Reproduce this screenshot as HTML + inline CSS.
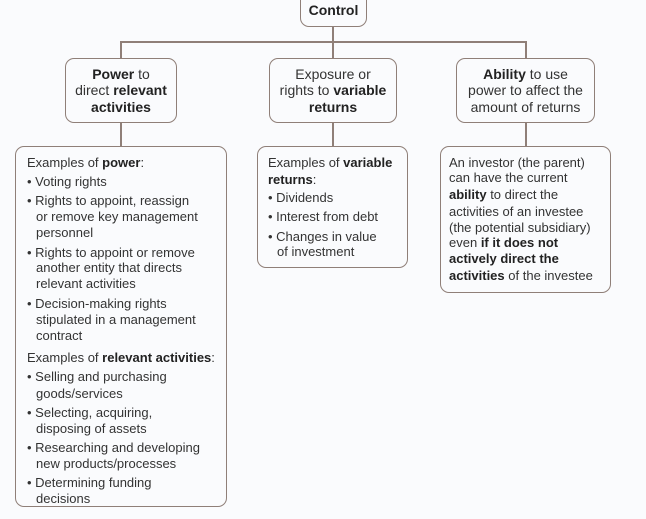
<!DOCTYPE html>
<html><head><meta charset="utf-8"><style>
html,body{margin:0;padding:0}
body{width:646px;height:519px;position:relative;overflow:hidden;background:#fafbfd;font-family:"Liberation Sans",sans-serif;color:#333;}
.box{position:absolute;border:1.5px solid #8f7f78;border-radius:9px;box-sizing:border-box;background:#fafbfd}
.ln{position:absolute;background:#8f7f78}
.t{position:absolute;font-size:13px;line-height:16px;height:16px;white-space:nowrap}
.h{position:absolute;font-size:14px;line-height:16px;text-align:center;white-space:nowrap}
b{font-weight:bold;color:#222}
</style></head><body>
<!-- connectors -->
<div class="ln" style="left:332px;top:26px;width:2px;height:17px"></div>
<div class="ln" style="left:120px;top:41px;width:407px;height:2px"></div>
<div class="ln" style="left:120px;top:41px;width:2px;height:18px"></div>
<div class="ln" style="left:332px;top:41px;width:2px;height:18px"></div>
<div class="ln" style="left:525px;top:41px;width:2px;height:18px"></div>
<div class="ln" style="left:120px;top:122px;width:2px;height:25px"></div>
<div class="ln" style="left:332px;top:122px;width:2px;height:25px"></div>
<div class="ln" style="left:525px;top:122px;width:2px;height:25px"></div>

<div class="box" style="left:300px;top:-10px;width:67px;height:37px"></div>
<div class="h" style="left:300px;width:67px;top:2px"><b>Control</b></div>

<div class="box" style="left:65px;top:58px;width:112px;height:65px"></div>
<div class="h" style="left:65px;width:112px;top:66px"><b>Power</b> to</div>
<div class="h" style="left:65px;width:112px;top:82px">direct <b>relevant</b></div>
<div class="h" style="left:65px;width:112px;top:99px"><b>activities</b></div>

<div class="box" style="left:269px;top:58px;width:128px;height:65px"></div>
<div class="h" style="left:269px;width:128px;top:66px">Exposure or</div>
<div class="h" style="left:269px;width:128px;top:82px">rights to <b>variable</b></div>
<div class="h" style="left:269px;width:128px;top:99px"><b>returns</b></div>

<div class="box" style="left:456px;top:58px;width:139px;height:65px"></div>
<div class="h" style="left:456px;width:139px;top:66px"><b>Ability</b> to use</div>
<div class="h" style="left:456px;width:139px;top:82px">power to affect the</div>
<div class="h" style="left:456px;width:139px;top:99px">amount of returns</div>

<!-- left bottom -->
<div class="box" style="left:15px;top:146px;width:212px;height:361px"></div>
<div class="t" style="left:27px;top:155px">Examples of <b>power</b>:</div>
<div class="t" style="left:27px;top:174px">• Voting rights</div>
<div class="t" style="left:27px;top:193px">• Rights to appoint, reassign</div>
<div class="t" style="left:36px;top:209px">or remove key management</div>
<div class="t" style="left:36px;top:225px">personnel</div>
<div class="t" style="left:27px;top:245px">• Rights to appoint or remove</div>
<div class="t" style="left:36px;top:260px">another entity that directs</div>
<div class="t" style="left:36px;top:276px">relevant activities</div>
<div class="t" style="left:27px;top:296px">• Decision-making rights</div>
<div class="t" style="left:36px;top:312px">stipulated in a management</div>
<div class="t" style="left:36px;top:328px">contract</div>
<div class="t" style="left:27px;top:350px">Examples of <b>relevant activities</b>:</div>
<div class="t" style="left:27px;top:369px">• Selling and purchasing</div>
<div class="t" style="left:36px;top:386px">goods/services</div>
<div class="t" style="left:27px;top:405px">• Selecting, acquiring,</div>
<div class="t" style="left:36px;top:421px">disposing of assets</div>
<div class="t" style="left:27px;top:440px">• Researching and developing</div>
<div class="t" style="left:36px;top:456px">new products/processes</div>
<div class="t" style="left:27px;top:475px">• Determining funding</div>
<div class="t" style="left:36px;top:491px">decisions</div>

<!-- middle bottom -->
<div class="box" style="left:257px;top:146px;width:151px;height:122px"></div>
<div class="t" style="left:268px;top:155px">Examples of <b>variable</b></div>
<div class="t" style="left:268px;top:172px"><b>returns</b>:</div>
<div class="t" style="left:268px;top:190px">• Dividends</div>
<div class="t" style="left:268px;top:209px">• Interest from debt</div>
<div class="t" style="left:268px;top:229px">• Changes in value</div>
<div class="t" style="left:277px;top:244px">of investment</div>

<!-- right bottom -->
<div class="box" style="left:440px;top:146px;width:171px;height:147px"></div>
<div class="t" style="left:449px;top:155px">An investor (the parent)</div>
<div class="t" style="left:449px;top:170px">can have the current</div>
<div class="t" style="left:449px;top:187px"><b>ability</b> to direct the</div>
<div class="t" style="left:449px;top:204px">activities of an investee</div>
<div class="t" style="left:449px;top:220px">(the potential subsidiary)</div>
<div class="t" style="left:449px;top:235px">even <b>if it does not</b></div>
<div class="t" style="left:449px;top:251px"><b>actively direct the</b></div>
<div class="t" style="left:449px;top:268px"><b>activities</b> of the investee</div>
</body></html>
